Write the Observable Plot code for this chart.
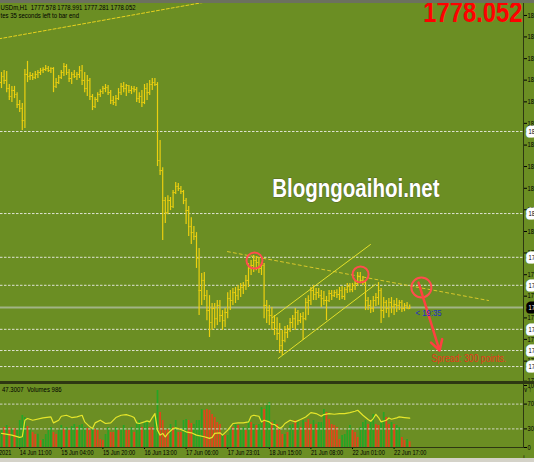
<!DOCTYPE html>
<html><head><meta charset="utf-8">
<script src="https://cdn.jsdelivr.net/npm/d3@7"></script>
<script src="https://cdn.jsdelivr.net/npm/@observablehq/plot@0.6"></script>
<style>
html,body{margin:0;padding:0;overflow:hidden;background:#6b8e23;width:534px;height:462px}
#wrap{position:relative;width:534px;height:462px;overflow:hidden;background:#6b8e23}
#wrap svg{position:absolute;left:0;overflow:hidden !important;background:transparent !important;max-width:none !important}
.ln{position:absolute}
</style></head><body><div id="wrap"></div>
<script>
// ---- price bars (XAUUSDm H1), bar index 0..157 ----
const open = [1860.8,1863.0,1861.6,1858.6,1855.7,1857.9,1856.4,1852.7,1851.3,1846.8,1863.8,1863.0,1863.4,1862.7,1863.8,1864.5,1865.2,1865.6,1866.0,1865.2,
1866.0,1859.4,1860.8,1862.7,1864.5,1866.7,1864.5,1862.3,1863.8,1863.0,1863.8,1865.2,1861.6,1858.6,1861.6,1855.7,1852.0,1854.6,1856.4,1857.5,
1858.6,1859.0,1857.1,1854.2,1853.5,1854.9,1857.1,1859.4,1858.6,1859.7,1857.9,1858.6,1858.2,1854.9,1855.7,1853.5,1858.6,1857.1,1860.1,1860.8,
1860.1,1832.1,1828.4,1817.4,1813.0,1817.4,1815.2,1820.3,1822.6,1821.8,1820.7,1817.4,1813.7,1807.8,1805.6,1804.2,1796.1,1784.3,1788.0,1782.4,
1776.9,1772.5,1777.7,1773.9,1778.8,1775.1,1773.2,1776.2,1781.3,1780.6,1783.5,1782.4,1784.6,1785.4,1786.1,1788.0,1792.4,1793.5,1795.3,1794.6,
1792.4,1793.5,1778.8,1776.9,1775.1,1772.5,1770.3,1768.5,1764.0,1765.9,1768.8,1770.3,1772.5,1773.9,1776.2,1773.2,1774.7,1773.9,1779.9,1780.6,
1784.3,1782.8,1783.5,1782.4,1781.3,1780.6,1780.6,1783.2,1782.4,1783.5,1782.8,1784.3,1782.1,1784.6,1785.8,1784.6,1786.1,1786.9,1789.4,1788.0,
1787.2,1780.6,1778.8,1777.7,1780.6,1781.7,1784.3,1776.9,1779.9,1777.7,1779.9,1778.4,1779.1,1778.8,1779.9,1777.7,1778.8,1777.578];
const high = [1864.5,1865.2,1864.9,1860.1,1859.4,1859.4,1857.1,1854.2,1853.1,1865.6,1868.6,1864.5,1864.1,1864.9,1865.2,1866.0,1866.3,1867.1,1866.7,1866.3,
1866.3,1862.3,1863.4,1865.2,1867.8,1867.4,1865.6,1864.5,1865.2,1864.5,1866.7,1867.1,1864.5,1863.4,1862.3,1856.4,1855.3,1857.1,1858.2,1859.4,
1860.1,1859.7,1857.9,1855.7,1856.0,1858.6,1860.5,1860.8,1860.1,1859.7,1859.4,1859.4,1859.0,1857.1,1857.9,1860.1,1860.5,1861.6,1862.3,1862.3,
1860.8,1839.5,1829.5,1818.5,1819.2,1818.5,1821.1,1824.0,1823.7,1822.6,1821.1,1818.1,1815.2,1811.1,1807.8,1805.6,1799.7,1790.5,1790.9,1784.3,
1782.4,1779.5,1779.5,1780.6,1780.6,1776.9,1777.7,1783.5,1784.3,1785.0,1785.4,1786.1,1786.9,1787.2,1789.8,1794.2,1795.3,1797.2,1796.8,1796.1,
1794.6,1794.2,1780.6,1778.8,1778.0,1775.1,1774.3,1772.1,1769.6,1771.0,1771.4,1774.0,1775.1,1777.7,1776.9,1775.8,1776.2,1781.3,1782.4,1785.4,
1786.1,1785.0,1785.0,1784.3,1783.9,1782.1,1784.3,1784.3,1784.3,1784.6,1785.4,1785.8,1785.4,1786.9,1786.9,1786.9,1788.0,1790.9,1790.9,1789.4,
1788.0,1781.7,1780.6,1782.1,1783.2,1787.2,1785.0,1781.7,1780.6,1781.3,1781.7,1780.6,1781.3,1780.6,1780.6,1779.5,1779.9,1778.991];
const low = [1858.6,1860.1,1857.1,1854.2,1853.5,1854.9,1851.3,1849.8,1843.2,1843.9,1860.8,1861.6,1861.6,1861.9,1862.3,1863.4,1864.1,1864.9,1864.5,1864.1,
1857.1,1858.6,1860.1,1861.9,1863.0,1863.4,1860.8,1860.1,1862.3,1861.6,1862.3,1859.7,1857.1,1855.7,1854.2,1850.5,1851.3,1853.5,1855.3,1856.4,
1857.1,1856.0,1852.7,1852.4,1852.0,1854.2,1856.0,1857.1,1855.7,1856.8,1856.4,1857.1,1853.5,1853.1,1851.6,1852.7,1854.2,1856.0,1857.9,1859.4,
1829.9,1826.6,1802.7,1808.9,1812.2,1813.7,1814.5,1819.6,1820.7,1819.6,1815.9,1808.6,1804.2,1801.2,1802.7,1792.4,1775.1,1778.8,1780.6,1773.2,
1767.0,1769.6,1770.3,1771.4,1772.5,1769.6,1770.7,1773.9,1776.9,1778.8,1779.5,1780.6,1781.7,1782.8,1784.3,1785.4,1789.8,1790.9,1791.6,1790.5,
1789.8,1773.9,1772.1,1771.4,1769.6,1767.7,1765.9,1761.1,1760.4,1765.1,1766.6,1768.8,1770.3,1769.6,1771.4,1772.1,1765.9,1773.2,1775.1,1778.8,
1780.6,1780.6,1781.3,1778.0,1778.8,1773.2,1779.9,1780.6,1781.7,1781.3,1780.6,1781.0,1780.6,1783.2,1783.5,1783.5,1784.3,1785.8,1787.2,1786.1,
1776.9,1776.9,1775.8,1776.2,1778.4,1778.8,1772.1,1774.0,1775.8,1774.3,1775.8,1775.1,1776.2,1776.9,1776.2,1776.5,1777.3,1777.281];
const close = [1863.0,1861.6,1858.6,1855.7,1857.9,1856.4,1852.7,1851.3,1846.8,1863.8,1863.0,1863.4,1862.7,1863.8,1864.5,1865.2,1865.6,1866.0,1865.2,1866.0,
1859.4,1860.8,1862.7,1864.5,1866.7,1864.5,1862.3,1863.8,1863.0,1863.8,1865.2,1861.6,1858.6,1861.6,1855.7,1852.0,1854.6,1856.4,1857.5,1858.6,
1859.0,1857.1,1854.2,1853.5,1854.9,1857.1,1859.4,1858.6,1859.7,1857.9,1858.6,1858.2,1854.9,1855.7,1853.5,1858.6,1857.1,1860.1,1860.8,1860.1,
1832.1,1828.4,1817.4,1813.0,1817.4,1815.2,1820.3,1822.6,1821.8,1820.7,1817.4,1813.7,1807.8,1805.6,1804.2,1796.1,1784.3,1788.0,1782.4,1776.9,
1772.5,1777.7,1773.9,1778.8,1775.1,1773.2,1776.2,1781.3,1780.6,1783.5,1782.4,1784.6,1785.4,1786.1,1788.0,1792.4,1793.5,1795.3,1794.6,1792.4,
1793.5,1778.8,1776.9,1775.1,1772.5,1770.3,1768.5,1764.0,1765.9,1768.8,1770.3,1772.5,1773.9,1776.2,1773.2,1774.7,1773.9,1779.9,1780.6,1784.3,
1782.8,1783.5,1782.4,1781.3,1780.6,1780.6,1783.2,1782.4,1783.5,1782.8,1784.3,1782.1,1784.6,1785.8,1784.6,1786.1,1786.9,1789.4,1788.0,1787.2,
1780.6,1778.8,1777.7,1780.6,1781.7,1784.3,1776.9,1779.9,1777.7,1779.9,1778.4,1779.1,1778.8,1779.9,1777.7,1778.8,1778.0,1778.052];

// ---- volumes and their colour flag (g = up, r = down) ----
const volume = [2940,3460,3810,3460,3110,3290,2940,4670,5540,5190,3630,3110,2600,2250,2300,1210,1380,2250,2940,3460,
2600,2250,2940,3810,3110,3460,2940,3630,3980,3460,3810,3980,3460,3290,2940,3460,3110,2940,1380,1210,
2250,3460,2600,2600,3460,2940,3110,3810,2940,2940,3460,2600,4330,4670,3460,4330,4670,3460,3460,5190,
9860,6060,4670,2940,3110,3980,3460,4670,2600,2600,4670,4840,4670,4150,3980,4670,4670,6570,6400,6570,
6400,5710,5190,4330,3980,2250,2080,2080,3110,3460,3980,3810,2940,3460,2940,4670,4330,3980,3810,3980,
6920,6570,7270,7790,4330,4670,3980,2940,2250,2250,2600,3810,3980,4670,4330,3460,4670,4330,4840,3980,
4670,3980,4330,4330,6570,6060,4840,3980,3810,3460,1380,2080,2250,2940,3810,2940,2600,1730,3460,4330,
4670,3980,4330,5710,3980,3810,4330,6060,5190,3980,4330,3980,3810,3460,1730,1210,1380,986];
const volumeFlag = ("g r g r g r g g g g r g r r g r g g g g r r g g r g r g g r g g g r r g r r r r " +
"g g r r g r g g r r g r g g r g g r r g g r r r r g r g r r g g r r g g g g r r r r r r r g r g g r g r g g r g r g r g g r g g " +
"r g r r r g r g g r g r g r r r g r g g g r r r r r r g g g g r r r g g g r g g r r g g r r g r g g r r g r").split(" ");

// ---- oscillator (read at sampled bars) ----
const rsiBar = [0,4,7,8,9,10,12,16,19,20,22,23,25,27,29,31,32,34,35,36,38,40,42,44,46,48,50,51,52,53,55,56,57,58,59,60,61,62,63,64,66,67,69,71,73,75,78,80,81,82,84,85,87,88,89,91,93,95,96,97,99,100,101,103,104,105,107,108,109,111,113,115,117,119,121,123,124,126,128,130,132,134,136,137,139,141,142,143,144,145,146,148,149,150,152,153,155,157];
const rsiValue = [22.7,20,16.3,17.3,44,46.7,44,47.7,49.3,39.7,44,50.4,52,48.3,49.3,52,41.3,33.3,30.7,39.7,44,38.7,39.7,48.3,52,53.1,50.4,48.3,39.7,38.7,41.3,42.9,41.3,48.3,54.7,28,20,22.7,17.3,22.7,30.7,31.7,29.1,25.3,23.7,20,17.3,14.7,16.3,22.7,23.7,20,28,33.3,38.7,39.7,39.7,41.3,50.4,52,50.4,41.3,44,41.3,37.6,37.1,30.7,33.3,38.7,44,41.3,45.1,49.3,56.3,54.7,50.4,53.1,54.7,53.6,54.7,54.7,56.3,58.4,60,52,45.1,42.4,46.7,53.6,48.3,41.3,44,47.7,45.6,47.7,49.3,48.3,47.3007];
const rsiLevels = [30, 70];
const rsiTicks = [0, 30, 70, 100];

// ---- axes, levels, drawings ----
const priceTicks = [1885.5,1877.6,1869.6,1861.7,1853.7,1845.8,1837.8,1829.9,1821.9,1814.0,1806.0,1798.1,1790.1,1782.2,1774.2,1766.3,1758.3,1750.9];
const levels = [1842.8,1812.6,1796.5,1786.2,1770.0,1762.2,1756.3];
const dateTicks = [-8,7,23,39,55,71,87,103,119,135,151];
const dateLabels = ["14 Jun 2021","14 Jun 11:00","15 Jun 04:00","15 Jun 20:00","16 Jun 13:00","17 Jun 06:00","17 Jun 23:01","18 Jun 15:00","21 Jun 08:00","22 Jun 01:00","22 Jun 17:00"];
const trendTop = [{i:-1,p:1876.9},{i:80,p:1890.7}];
const trendDown = [{i:86.9,p:1798.6},{i:187.3,p:1780.6}];
const channelUpper = [{i:104.2,p:1774.3},{i:141.9,p:1801.2}];
const channelLower = [{i:106.5,p:1759.3},{i:143.8,p:1786.5}];
const circleBar = [97.3,138.1,161.5];
const circlePrice = [1795.3,1790.2,1785.4];
const arrowLine = [{x1:160.4,y1:1787.2,x2:168.5,y2:1762.2}];
const spreadNote = [{i:165.4,p:1759.3,text:"Spread: 300 points."}];
const timerNote = [{i:159.2,p:1776.2,text:"< 19:35"}];
const watermark = [{i:136.3,p:1821.8,text:"Blogngoaihoi.net"}];
const symbolName = "USDm,H1";
const timerText = "tes 35 seconds left to bar end";
const lastRsi = 47.3007;

// ---- build ----
const N = open.length;
const bars = d3.range(N).map(i => ({i, o: open[i], h: high[i], l: low[i], c: close[i]}));
const volData = d3.range(N).map(i => ({i, v: volume[i], f: volumeFlag[i]}));
const rsiData = rsiBar.map((b, k) => ({i: b, v: rsiValue[k]}));
const last = N - 1;
const lastPrice = close[last];

const X_DOMAIN = [-0.385, 200.77];
const Y_DOMAIN = [1750.8, 1889.9];
const BAR = "#eccf10";
const FONT = "Liberation Sans, Arial, sans-serif";
const baseStyle = {background: "transparent", fontFamily: FONT, fontSize: "7px", color: "#000", overflow: "hidden"};

const main = Plot.plot({
  width: 534, height: 384, marginTop: 3, marginBottom: 3, marginLeft: 0, marginRight: 11,
  style: baseStyle,
  x: {domain: X_DOMAIN, axis: null},
  y: {domain: Y_DOMAIN, axis: null},
  marks: [
    Plot.ruleY(levels, {stroke: "#dfe3d2", strokeDasharray: "2.5,1.5", strokeWidth: 1}),
    Plot.ruleY([lastPrice], {stroke: "#a2b386", strokeWidth: 2}),
    Plot.line(trendTop, {x: "i", y: "p", stroke: "#e6d21e", strokeDasharray: "3,2", strokeWidth: 1, clip: true}),
    Plot.line(trendDown, {x: "i", y: "p", stroke: "#d9c82a", strokeDasharray: "3,3", strokeWidth: 1, clip: true}),
    Plot.line(channelUpper, {x: "i", y: "p", stroke: "#e4e02a", strokeWidth: 1}),
    Plot.line(channelLower, {x: "i", y: "p", stroke: "#e4e02a", strokeWidth: 1}),
    Plot.ruleX(bars, {x: "i", y1: "l", y2: "h", stroke: BAR, strokeWidth: 1.2}),
    Plot.ruleY(bars, {x1: d => d.i - 0.45, x2: "i", y: "o", stroke: BAR, strokeWidth: 1}),
    Plot.ruleY(bars, {x1: "i", x2: d => d.i + 0.45, y: "c", stroke: BAR, strokeWidth: 1}),
    Plot.dot(circleBar.slice(0, 2).map((b, k) => ({i: b, p: circlePrice[k]})), {x: "i", y: "p", r: 8, stroke: "#ff4d4d", strokeWidth: 2, fill: "none"}),
    Plot.dot([{i: circleBar[2], p: circlePrice[2]}], {x: "i", y: "p", r: 10, stroke: "#ff4d4d", strokeWidth: 2, fill: "none"}),
    Plot.arrow(arrowLine, {x1: "x1", y1: "y1", x2: "x2", y2: "y2", stroke: "#ff4040", strokeWidth: 2.5, headLength: 7}),
    Plot.text(spreadNote, {x: "i", y: "p", text: "text", fill: "#e8361c", fontSize: 10.5, textAnchor: "start"}),
    Plot.text(timerNote, {x: "i", y: "p", text: "text", fill: "#1e2ec8", fontSize: 9.5, textAnchor: "start"}),
    Plot.text(watermark, {x: "i", y: "p", text: "text", fill: "white", fontSize: 25, fontWeight: "bold", stroke: "#55652a", strokeWidth: 1, paintOrder: "stroke"}),
    Plot.text([`${symbolName}  ${open[last].toFixed(3)} ${high[last].toFixed(3)} ${low[last].toFixed(3)} ${close[last].toFixed(3)}`],
      {frameAnchor: "top-left", textAnchor: "start", lineAnchor: "top", dy: 1, fontSize: 7.3, fill: "#000"}),
    Plot.text([timerText], {frameAnchor: "top-left", textAnchor: "start", lineAnchor: "top", dy: 9.6, fontSize: 7.3, fill: "#000"}),
    Plot.text([lastPrice.toFixed(3)], {frameAnchor: "top-right", textAnchor: "end", lineAnchor: "top", dx: -1, dy: -2, fontSize: 29, fontWeight: "bold", fill: "#ff0000"}),
    Plot.axisY({anchor: "right", ticks: priceTicks, tickSize: 3, tickPadding: 1, tickFormat: d => d.toFixed(2), fontSize: 7}),
    Plot.text(levels, {y: d => d, frameAnchor: "right", dx: 5, textAnchor: "start", text: d => d.toFixed(2), fill: "#000", stroke: "#fff", strokeWidth: 7, paintOrder: "stroke", fontSize: 7}),
    Plot.text([lastPrice], {y: d => d, frameAnchor: "right", dx: 5, textAnchor: "start", text: d => d.toFixed(2), fill: "#fff", stroke: "#000", strokeWidth: 7, paintOrder: "stroke", fontSize: 7})
  ]
});

const vol = Plot.plot({
  width: 534, height: 78, marginTop: 1, marginBottom: 15, marginLeft: 0, marginRight: 11,
  style: baseStyle,
  x: {domain: X_DOMAIN, axis: null},
  y: {domain: [0, 10726], axis: null},
  color: {domain: ["g", "r"], range: ["#26a526", "#e4441a"]},
  marks: [Plot.ruleX(volData, {x: "i", y1: 0, y2: "v", stroke: "f", strokeWidth: 1.7})]
});

const ind = Plot.plot({
  width: 534, height: 78, marginTop: 1, marginBottom: 15, marginLeft: 0, marginRight: 11,
  style: baseStyle,
  x: {domain: X_DOMAIN, axis: null},
  y: {domain: [0, 100], axis: null},
  marks: [
    Plot.ruleY(rsiLevels, {stroke: "#cfd5bf", strokeDasharray: "2.5,1.5", strokeWidth: 1}),
    Plot.line(rsiData, {x: "i", y: "v", stroke: "#e6e62a", strokeWidth: 1.2}),
    Plot.axisY({anchor: "right", ticks: rsiTicks, tickSize: 3, tickPadding: 1, fontSize: 7}),
    Plot.axisX({anchor: "bottom", ticks: dateTicks, tickFormat: d => dateLabels[dateTicks.indexOf(d)], tickSize: 2, tickPadding: 1, textAnchor: "start", fontSize: 6.8}),
    Plot.text([`${lastRsi.toFixed(4)}  Volumes ${volume[last]}`], {frameAnchor: "top-left", textAnchor: "start", lineAnchor: "top", dx: 1.5, dy: 1.5, fontSize: 7.3, fill: "#000"})
  ]
});

const wrap = document.getElementById("wrap");
function put(svg, top) { svg.style.top = top + "px"; wrap.appendChild(svg); }
put(main, 0); put(vol, 384); put(ind, 384);

function line(l, t, w, h, c) { const d = document.createElement("div"); d.className = "ln"; Object.assign(d.style, {left: l + "px", top: t + "px", width: w + "px", height: h + "px", background: c}); wrap.appendChild(d); }
const DARK = "#2e3812";
line(0, 0, 534, 3, "#6c715f");
line(523, 3, 1, 378, DARK);
line(0, 381, 534, 3, DARK);
line(523, 384, 1, 63, DARK);
line(0, 447, 524, 1, DARK);
line(0, 458, 534, 4, "#d4d2c8");

function squeeze(svg, f) {
  svg.querySelectorAll("text").forEach(t => {
    const L = t.getComputedTextLength();
    if (L > 0) { t.setAttribute("textLength", (L * f).toFixed(2)); t.setAttribute("lengthAdjust", "spacingAndGlyphs"); }
  });
}
[main, ind].forEach(s => squeeze(s, 0.82));
</script>
</body></html>
